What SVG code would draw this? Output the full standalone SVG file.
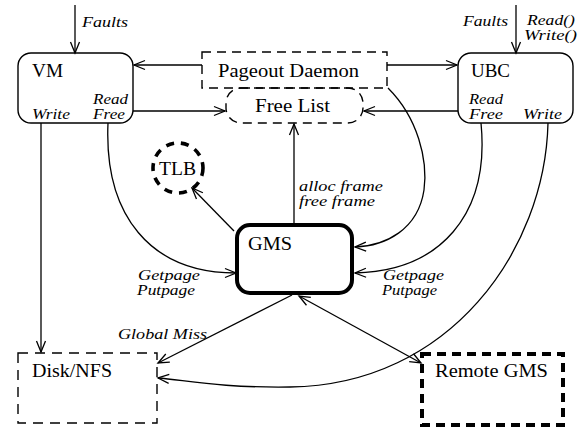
<svg xmlns="http://www.w3.org/2000/svg" width="583" height="428" viewBox="0 0 583 428">
<defs>
<style>
.box{fill:none;stroke:#000;stroke-width:1.4}
.dash{fill:none;stroke:#000;stroke-width:1.4;stroke-dasharray:9 6}
.thick{fill:none;stroke:#000;stroke-width:4}
.tdash{fill:none;stroke:#000;stroke-width:4;stroke-dasharray:9 6}
.c{fill:none;stroke:#000;stroke-width:1.3}
.n{font-family:"Liberation Serif","Times New Roman",serif;font-size:18px;fill:#000}
.l{font-family:"Liberation Serif","Times New Roman",serif;font-size:14.5px;font-style:italic;fill:#000}
</style>
<marker id="a" viewBox="-12 -6 14 12" refX="0" refY="0" markerWidth="14" markerHeight="12" markerUnits="userSpaceOnUse" orient="auto-start-reverse">
<path d="M-11,-4.5 L0,0 L-11,4.5" fill="none" stroke="#000" stroke-width="1.3"/>
</marker>
</defs>
<rect width="583" height="428" fill="#fff"/>

<g id="connectors">
<line class="c" x1="75" y1="5" x2="75" y2="53" marker-end="url(#a)"/>
<line class="c" x1="516" y1="5" x2="516" y2="53" marker-end="url(#a)"/>
<line class="c" x1="202" y1="65" x2="134" y2="65" marker-end="url(#a)"/>
<line class="c" x1="387" y1="65" x2="457" y2="65" marker-end="url(#a)"/>
<line class="c" x1="133" y1="111" x2="225" y2="111" marker-end="url(#a)"/>
<line class="c" x1="458" y1="111" x2="364" y2="111" marker-end="url(#a)"/>
<line class="c" x1="294" y1="225" x2="294" y2="124" marker-end="url(#a)"/>
<line class="c" x1="234" y1="231" x2="192" y2="188" marker-end="url(#a)"/>
<line class="c" x1="41" y1="123" x2="41" y2="352" marker-end="url(#a)"/>
<path class="c" d="M108,123 C104,215 150,273 236,273" marker-end="url(#a)"/>
<path class="c" d="M388,88 C418,118 428,160 424,190 C418,230 385,246 355,247" marker-end="url(#a)"/>
<path class="c" d="M481,123 C490,215 440,271 355,273" marker-end="url(#a)"/>
<path class="c" d="M548,123 C545,250 450,385 290,387 C220,388 185,380 158,378" marker-end="url(#a)"/>
<line class="c" x1="292" y1="295" x2="158" y2="363" marker-end="url(#a)"/>
<line class="c" x1="299" y1="296" x2="421" y2="363" marker-start="url(#a)" marker-end="url(#a)"/>
</g>

<g id="vm">
<rect class="box" x="18" y="53" width="115" height="70" rx="13"/>
<text class="n" x="32" y="77" textLength="31" lengthAdjust="spacingAndGlyphs">VM</text>
<text class="l" x="93" y="104" textLength="35" lengthAdjust="spacingAndGlyphs">Read</text>
<text class="l" x="93" y="119" textLength="32" lengthAdjust="spacingAndGlyphs">Free</text>
<text class="l" x="32" y="119" textLength="38" lengthAdjust="spacingAndGlyphs">Write</text>
<text class="l" x="82" y="27" textLength="46" lengthAdjust="spacingAndGlyphs">Faults</text>
</g>

<g id="ubc">
<rect class="box" x="458" y="53" width="115" height="70" rx="13"/>
<text class="n" x="471" y="77" textLength="39" lengthAdjust="spacingAndGlyphs">UBC</text>
<text class="l" x="469" y="104" textLength="34" lengthAdjust="spacingAndGlyphs">Read</text>
<text class="l" x="469" y="119" textLength="34" lengthAdjust="spacingAndGlyphs">Free</text>
<text class="l" x="523" y="119" textLength="39" lengthAdjust="spacingAndGlyphs">Write</text>
<text class="l" x="463" y="26" textLength="45" lengthAdjust="spacingAndGlyphs">Faults</text>
<text class="l" x="527" y="25" textLength="48" lengthAdjust="spacingAndGlyphs">Read()</text>
<text class="l" x="524" y="40" textLength="53" lengthAdjust="spacingAndGlyphs">Write()</text>
</g>

<g id="pageout">
<rect class="dash" x="202" y="52" width="185" height="36"/>
<text class="n" x="218" y="77" textLength="141" lengthAdjust="spacingAndGlyphs">Pageout Daemon</text>
</g>

<g id="freelist">
<rect class="dash" x="226" y="88" width="137" height="35" rx="15"/>
<text class="n" x="255" y="112" textLength="75" lengthAdjust="spacingAndGlyphs">Free List</text>
</g>

<g id="tlb">
<circle class="tdash" cx="178" cy="168" r="25" style="stroke-width:3.6;stroke-dasharray:8 7"/>
<text class="n" x="159" y="175" textLength="37" lengthAdjust="spacingAndGlyphs">TLB</text>
</g>

<g id="gms">
<rect class="thick" x="237" y="225" width="115" height="68" rx="13"/>
<text class="n" x="248" y="250" textLength="44" lengthAdjust="spacingAndGlyphs">GMS</text>
<text class="l" x="299" y="191" textLength="84" lengthAdjust="spacingAndGlyphs">alloc frame</text>
<text class="l" x="299" y="206" textLength="76" lengthAdjust="spacingAndGlyphs">free frame</text>
<text class="l" x="138" y="280" textLength="62" lengthAdjust="spacingAndGlyphs">Getpage</text>
<text class="l" x="137" y="295" textLength="58" lengthAdjust="spacingAndGlyphs">Putpage</text>
<text class="l" x="383" y="280" textLength="61" lengthAdjust="spacingAndGlyphs">Getpage</text>
<text class="l" x="382" y="295" textLength="55" lengthAdjust="spacingAndGlyphs">Putpage</text>
<text class="l" x="118" y="339" textLength="89" lengthAdjust="spacingAndGlyphs">Global Miss</text>
</g>

<g id="disk">
<rect class="dash" x="18" y="353" width="139" height="70" style="stroke-dasharray:10 7"/>
<text class="n" x="32" y="377" textLength="80" lengthAdjust="spacingAndGlyphs">Disk/NFS</text>
</g>

<g id="remote">
<rect class="tdash" x="422" y="354" width="141" height="71"/>
<text class="n" x="435" y="377" textLength="113" lengthAdjust="spacingAndGlyphs">Remote GMS</text>
</g>
</svg>
